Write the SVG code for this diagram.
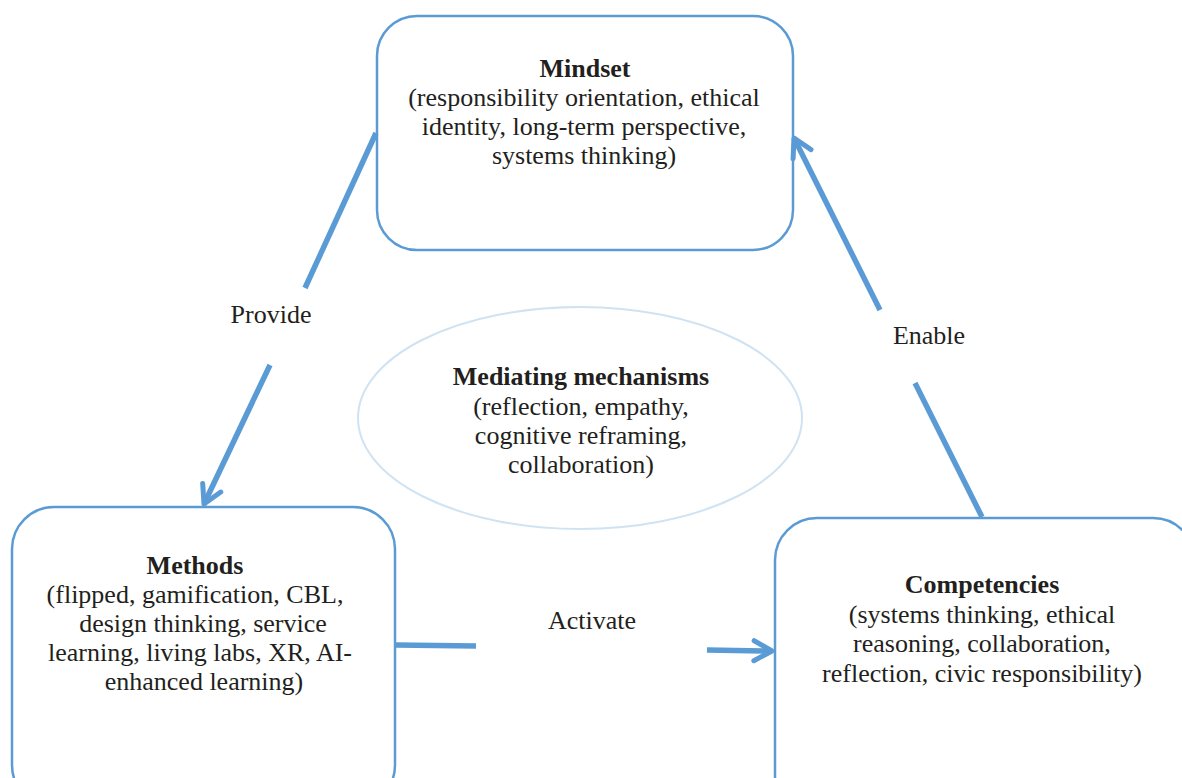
<svg xmlns="http://www.w3.org/2000/svg" width="1182" height="778" viewBox="0 0 1182 778">
<style>
.box{fill:#fff;stroke:#5b9bd5;stroke-width:2.5}
.ell{fill:#fff;stroke:#cfe3f3;stroke-width:2}
.t{font-family:"Liberation Serif","Times New Roman",serif;font-size:26px;fill:#231f20;text-anchor:middle}
.b{font-weight:bold}
.con{stroke:#5b9bd5;stroke-width:5.5;fill:none}
</style>
<defs>
<marker id="arr" viewBox="-22 -14 25 28" refX="0" refY="0" markerWidth="25" markerHeight="28" markerUnits="userSpaceOnUse" orient="auto">
<path d="M-18,-10 L0,0 L-18,10" fill="none" stroke="#5b9bd5" stroke-width="5" stroke-linecap="round" stroke-linejoin="round"/>
</marker>
</defs>
<g id="mediating">
<ellipse class="ell" cx="580" cy="418" rx="222" ry="111"/>
<text class="t b" x="581" y="385">Mediating mechanisms</text>
<text class="t" x="581" y="415">(reflection, empathy,</text>
<text class="t" x="581" y="444">cognitive reframing,</text>
<text class="t" x="581" y="473">collaboration)</text>
</g>
<g id="mindset">
<rect class="box" x="377" y="16" width="416" height="234" rx="40"/>
<text class="t b" x="585" y="77">Mindset</text>
<text class="t" x="584" y="106">(responsibility orientation, ethical</text>
<text class="t" x="584" y="135">identity, long-term perspective,</text>
<text class="t" x="584" y="164">systems thinking)</text>
</g>
<g id="methods">
<rect class="box" x="12" y="507" width="383" height="300" rx="42"/>
<text class="t b" x="195" y="574">Methods</text>
<text class="t" x="195" y="603">(flipped, gamification, CBL,</text>
<text class="t" x="203" y="632">design thinking, service</text>
<text class="t" x="200" y="661">learning, living labs, XR, AI-</text>
<text class="t" x="204" y="690">enhanced learning)</text>
</g>
<g id="competencies">
<rect class="box" x="775" y="518" width="420" height="300" rx="42"/>
<text class="t b" x="982" y="593">Competencies</text>
<text class="t" x="982" y="623">(systems thinking, ethical</text>
<text class="t" x="982" y="652">reasoning, collaboration,</text>
<text class="t" x="982" y="682">reflection, civic responsibility)</text>
</g>
<g id="connectors">
<line class="con" x1="376" y1="133" x2="305" y2="288"/>
<line class="con" x1="270" y1="365" x2="204" y2="504" marker-end="url(#arr)"/>
<text class="t" x="271" y="323">Provide</text>
<line class="con" x1="982" y1="517" x2="915" y2="383"/>
<line class="con" x1="880" y1="310" x2="794" y2="138" marker-end="url(#arr)"/>
<text class="t" x="929" y="344">Enable</text>
<line class="con" x1="395" y1="645" x2="476" y2="646"/>
<line class="con" x1="707" y1="650" x2="772" y2="651" marker-end="url(#arr)"/>
<text class="t" x="592" y="629">Activate</text>
</g>
</svg>
